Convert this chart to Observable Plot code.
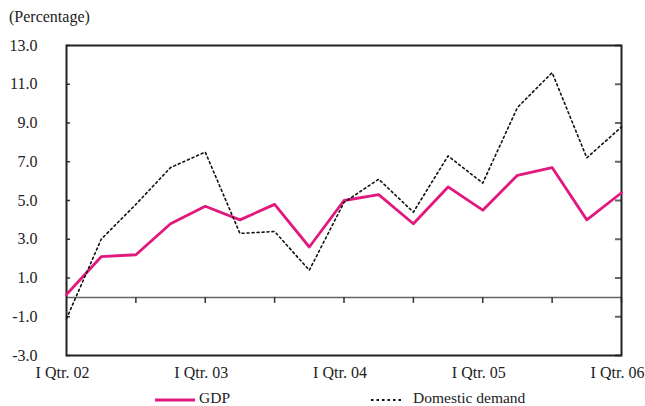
<!DOCTYPE html>
<html><head><meta charset="utf-8">
<script src="https://cdn.jsdelivr.net/npm/d3@7"></script>
<script src="https://cdn.jsdelivr.net/npm/@observablehq/plot@0.6"></script>
<style>
body{margin:0;background:#fff;font-family:"Liberation Serif","Times New Roman",serif;color:#222;}
#wrap{position:relative;width:645px;height:406px;overflow:hidden;}
#title{position:absolute;left:9px;top:7px;font-size:16px;line-height:20px;}
#chart{position:absolute;left:0;top:0;}
.leg{position:absolute;top:390px;height:16px;font-size:15.5px;line-height:16px;display:flex;align-items:center;}
.leg svg{display:block;}
</style></head><body>
<div id="wrap">
<div id="chart"></div>
<div id="title">(Percentage)</div>
<div class="leg" style="left:155px"><svg width="40" height="16"><line x1="0" y1="10" x2="40" y2="10" stroke="#E2187E" stroke-width="3"/></svg><span style="margin-left:4px">GDP</span></div>
<div class="leg" style="left:371px"><svg width="30" height="16"><line x1="0" y1="10" x2="30" y2="10" stroke="#111" stroke-width="1.8" stroke-dasharray="2.5,3"/></svg><span style="margin-left:12px">Domestic demand</span></div>
</div>
<script>
const quarters = ["2002Q1","2002Q2","2002Q3","2002Q4","2003Q1","2003Q2","2003Q3","2003Q4","2004Q1","2004Q2","2004Q3","2004Q4","2005Q1","2005Q2","2005Q3","2005Q4","2006Q1"];
const gdp = [0.15, 2.1, 2.2, 3.8, 4.7, 4.0, 4.8, 2.6, 5.0, 5.3, 3.8, 5.7, 4.5, 6.3, 6.7, 4.0, 5.4];
const domesticDemand = [-1.1, 3.0, 4.8, 6.7, 7.5, 3.3, 3.4, 1.4, 4.9, 6.1, 4.4, 7.3, 5.9, 9.8, 11.6, 7.2, 8.8];
const xTickLabels = ["I Qtr. 02","I Qtr. 03","I Qtr. 04","I Qtr. 05","I Qtr. 06"];
const yTicks = [-3, -1, 1, 3, 5, 7, 9, 11, 13];

const data = quarters.map((q, i) => ({i, q, gdp: gdp[i], dd: domesticDemand[i]}));
const idx = quarters.map((q, i) => i);
const labelTicks = idx.filter(i => quarters[i].endsWith("Q1"));
const minorTicks = idx.filter(i => i > 0 && i % 2 === 0);

const chart = Plot.plot({
  width: 645, height: 380,
  marginTop: 45, marginBottom: 25, marginLeft: 66, marginRight: 24,
  style: {fontFamily: "'Liberation Serif', 'Times New Roman', serif", fontSize: "16px", color: "#222", background: "transparent"},
  x: {domain: [0, quarters.length - 1]},
  y: {domain: [-3, 13]},
  marks: [
    Plot.ruleY([0], {stroke: "#666", strokeWidth: 1.5}),
    Plot.ruleY(yTicks, {y: d => d, x1: 0, x2: 0, insetRight: -4, stroke: "#333", strokeWidth: 1.5}),
    Plot.ruleY(yTicks, {y: d => d, x1: quarters.length - 1, x2: quarters.length - 1, insetLeft: -6, stroke: "#666", strokeWidth: 2}),
    Plot.ruleX(minorTicks, {x: d => d, y1: 0, y2: 0, insetBottom: -6, stroke: "#333", strokeWidth: 1.5}),
    Plot.frame({stroke: "#222", strokeWidth: 2}),
    Plot.axisY({ticks: yTicks, tickSize: 0, tickPadding: 29, tickFormat: d => d.toFixed(1), label: null}),
    Plot.axisX({ticks: labelTicks, tickSize: 0, tickPadding: 11, dx: -4, tickFormat: i => xTickLabels[labelTicks.indexOf(i)], label: null}),
    Plot.line(data, {x: "i", y: "gdp", stroke: "#E2187E", strokeWidth: 2.8}),
    Plot.line(data, {x: "i", y: "dd", stroke: "#111", strokeWidth: 1.6, strokeDasharray: "2,3"})
  ]
});
document.getElementById("chart").appendChild(chart);
</script>
</body></html>
